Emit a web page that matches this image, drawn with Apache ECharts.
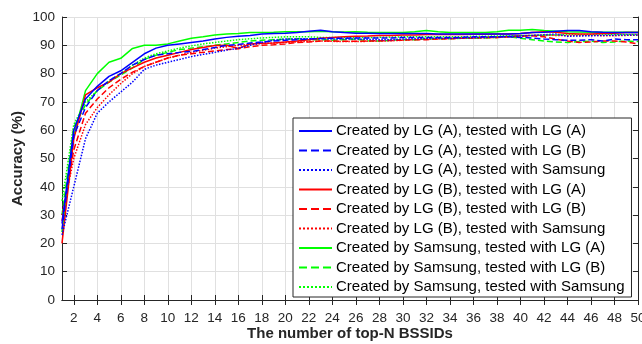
<!DOCTYPE html>
<html><head><meta charset="utf-8">
<script src="https://cdn.jsdelivr.net/npm/echarts@6/dist/echarts.min.js"></script>
<style>html,body{margin:0;padding:0;background:#fff}#c{width:642px;height:344px}</style>
</head><body><div id="c"></div>
<script>
const categories = Array.from({length:50},(_,i)=>String(i+1));
const yTicks = [0,10,20,30,40,50,60,70,80,90,100];
const names = [
 'Created by LG (A), tested with LG (A)',
 'Created by LG (A), tested with LG (B)',
 'Created by LG (A), tested with Samsung',
 'Created by LG (B), tested with LG (A)',
 'Created by LG (B), tested with LG (B)',
 'Created by LG (B), tested with Samsung',
 'Created by Samsung, tested with LG (A)',
 'Created by Samsung, tested with LG (B)',
 'Created by Samsung, tested with Samsung'
];
const lgA_lgA = [27,60,71,75.5,79,81,84,87,89,90,90.5,91,91.5,92.2,92.8,93.2,93.5,94,94.2,94.3,94.5,95,95.3,94.8,94.5,94.3,94.3,94.2,94.2,94.2,94.2,94.2,94,94,94,94,94,94,94,94.2,94.5,94.6,95,95.2,95.2,94.8,94.6,94.5,94.5,94.5];
const lgA_lgB = [25,58,68,74,77.5,80,83,85,86.5,87,87.5,87.8,88.5,89.2,90,90.3,90.8,91.2,91.5,91.8,92,92.2,92.4,92.5,92.5,92.6,92.6,92.6,92.6,92.8,92.8,92.8,92.8,92.8,92.8,93,93,93,93,92.8,92.6,92.2,92,91.8,91.8,92,91.5,92.2,92,92];
const lgA_sam = [23,40,57,66,70,73.5,77,81.5,83,84,85,86,86.8,87.5,88.3,89,90,91,91.8,92.2,92.3,92.3,92.3,92.2,92.2,92.2,92.1,92,92,92.2,92.3,92.4,92.5,92.5,92.6,92.7,92.8,93,93.2,93.4,93.5,93.7,94,93.2,93.3,93.4,93.5,93.6,93.6,93.6];
const lgB_lgA = [20,57,72.5,75,77,80,82,84,85.5,86.5,87.5,88.5,89.2,89.9,90,88.9,90.5,90.7,90.8,91.2,91.5,92,92.5,92.8,93,93.2,93.3,93.5,93.5,93.6,93.6,93.8,93.8,93.8,93.8,93.9,93.9,94,94,94.2,94.5,94.8,94.6,94.2,94,94,94.2,94.3,94.5,94.5];
const lgB_lgB = [28,53,66,71,75,78,80.5,82.5,84,85.5,86.5,87,87.5,88,88.5,88.8,89.5,90,90.2,90.5,91,91.2,91.5,91.5,91.4,91.4,91.5,91.6,91.7,91.8,92,92,92.2,92.3,92.5,92.6,92.8,92.8,93,93.2,93.4,93,92.2,91.5,91,91.2,91.5,91.5,91.2,90.5];
const lgB_sam = [30,50,62,68,72.5,76.5,80,82.5,84,85.5,86.5,87.5,88.2,89,89.5,90,90.3,90.6,90.8,91,91.2,91.4,91.5,91.4,91.3,91.3,91.4,91.5,91.6,91.8,92,92.2,92.3,92.4,92.5,92.6,92.7,92.8,93,93.3,93.5,93.6,93.5,93.4,93.5,93.5,93.4,93.4,93.5,93.6];
const sam_lgA = [24,58,74,80,84,85.4,88.9,90,90,90.5,91.5,92.5,93,93.6,94,94.2,94.5,94.5,94.6,94.8,94.8,94.8,95,94.8,94.7,94.8,94.6,94.5,94.5,94.5,94.8,95.2,94.8,94.5,94.5,94.5,94.5,94.8,95.3,95.3,95.6,95.2,95,94.8,94.7,94.6,94.6,94.6,94.6,94.6];
const sam_lgB = [30,61,69,74,77,79.5,82,85,86.5,87.5,88.5,89,89.5,90,90.5,91,91.5,91.8,92,92.2,92.3,92,92,91.8,92,92.2,91.6,91.5,91.8,92,92,92.2,92.3,92.3,92.5,92.5,92.6,92.8,93,92.5,92,91.5,91.2,91,91.3,91.5,91,91.2,91.5,91.3];
const sam_sam = [35,62,70,74,77.5,80,83,85.5,87,88,89,89.8,90.5,91,91.5,92,92.3,92.6,92.8,93,93,93,92.8,92.8,92.8,92.8,92.8,92.8,92.9,93,93,93,93,93,93,93.2,93.2,93.3,93.4,93.5,93.5,93.6,93.6,93.8,93.8,93.8,93.8,93.8,93.8,93.8];
const seriesData = [lgA_lgA,lgA_lgB,lgA_sam,lgB_lgA,lgB_lgB,lgB_sam,sam_lgA,sam_lgB,sam_sam];
const colors = ['#0000FF','#0000FF','#0000FF','#FF0000','#FF0000','#FF0000','#00FF00','#00FF00','#00FF00'];
const types = ['solid','dashed','dotted','solid','dashed','dotted','solid','dashed','dotted'];

const even = (i, v) => Number(v) % 2 === 0;
const font = 'Liberation Sans, Arial, Helvetica, sans-serif';
const axisCol = '#262626';
const chart = echarts.init(document.getElementById('c'), null, {renderer:'canvas'});
chart.setOption({
  animation:false,
  backgroundColor:'#fff',
  grid:{left:62,right:4,top:17,bottom:44,show:false,containLabel:false,outerBoundsMode:'none'},
  xAxis:[{
    type:'category', data:categories, boundaryGap:false,
    name:'The number of top-N BSSIDs', nameLocation:'middle', nameGap:26, nameMoveOverlap:false,
    nameTextStyle:{fontFamily:font,fontWeight:'bold',fontSize:15,color:axisCol},
    axisLine:{lineStyle:{color:axisCol,width:1}},
    axisTick:{inside:true,length:5,interval:even,lineStyle:{color:axisCol}},
    axisLabel:{interval:even,fontFamily:font,fontSize:13.5,color:axisCol,margin:11},
    splitLine:{show:true,interval:even,lineStyle:{color:'#e0e0e0',width:1}}
  },{
    type:'category', data:categories, boundaryGap:false, position:'top',
    axisLine:{lineStyle:{color:axisCol,width:1}},
    axisTick:{inside:true,length:5,interval:even,lineStyle:{color:axisCol}},
    axisLabel:{show:false}, splitLine:{show:false}
  }],
  yAxis:[{
    type:'value', min:0, max:100, interval:10,
    name:'Accuracy (%)', nameLocation:'middle', nameGap:36.5, nameMoveOverlap:false,
    nameTextStyle:{fontFamily:font,fontWeight:'bold',fontSize:15,color:axisCol},
    axisLine:{show:true,lineStyle:{color:axisCol,width:1}},
    axisTick:{show:true,inside:true,length:5,lineStyle:{color:axisCol}},
    axisLabel:{fontFamily:font,fontSize:13.5,color:axisCol,margin:7},
    splitLine:{show:true,lineStyle:{color:'#e0e0e0',width:1}}
  },{
    type:'value', min:0, max:100, interval:10, position:'right',
    axisLine:{show:true,lineStyle:{color:axisCol,width:1}},
    axisTick:{show:true,inside:true,length:5,lineStyle:{color:axisCol}},
    axisLabel:{show:false}, splitLine:{show:false}
  }],
  legend:{
    orient:'vertical', left:293, top:118,
    padding:[5,7,2,5], itemGap:3.5, itemWidth:33, itemHeight:16,
    backgroundColor:'#fff', borderColor:axisCol, borderWidth:1,
    itemStyle:{opacity:0},
    textStyle:{fontFamily:font,fontSize:15,color:'#000',lineHeight:16,padding:[0,0,0,-1]},
    data:names
  },
  series: seriesData.map((d,i)=>({
    name:names[i], type:'line', data:d, showSymbol:false, symbol:'none', symbolSize:0,
    color:colors[i], z:10-i,
    lineStyle:{color:colors[i],width:1.5,type:types[i]}
  }))
});
</script></body></html>
